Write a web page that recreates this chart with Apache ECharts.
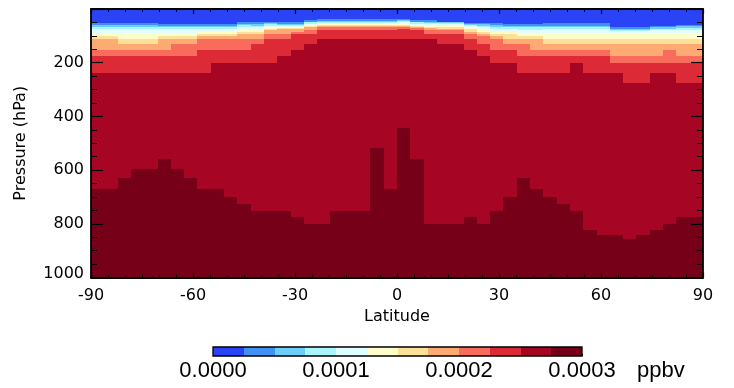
<!DOCTYPE html>
<html><head><meta charset="utf-8">
<script src="https://cdn.jsdelivr.net/npm/echarts@6/dist/echarts.min.js"></script>
<style>html,body{margin:0;padding:0;background:#fff}#c{width:734px;height:388px}</style>
</head><body><div id="c"></div>
<script>
// ---- axis / grid definitions ----
const latMin = -90, latMax = 90, nLat = 46;          // 46 latitude columns
const latTicks = [-90, -60, -30, 0, 30, 60, 90];
const pressureTicks = [200, 400, 600, 800, 1000];
const colorbarTicks = ['0.0000', '0.0001', '0.0002', '0.0003'];
const unitLabel = 'ppbv';
// colour bins (ppbv)
const binEdges = [0, 0.000025, 0.00005, 0.000075, 0.0001, 0.000125, 0.00015, 0.000175, 0.0002, 0.000225, 0.00025, 0.000275, 0.0003];
const palette = ['#2a44f5', '#3d92f3', '#6dcefa', '#aaf4fd', '#e0fefe', '#fefcc8', '#fde09a', '#fdab73', '#f96c5c', '#dc2b37', '#a70524', '#760018'];

// ---- data: pressure (hPa) where each column first reaches bin k (k = 1..11), columns south -> north ----
const bin1  = [52,52,52,52,52,55,57,57,57,57,57,47,47,47,50,50,42,38,38,38,38,38,38,38,42,42,47,47,52,52,52,57,57,57,53,53,53,53,53,66,66,66,62,62,58,58];
const bin2  = [60,60,60,60,60,62,62,62,62,62,62,55,57,53,55,55,47,44,44,44,44,44,44,42,47,47,50,50,55,57,60,62,62,62,62,62,62,62,62,74,74,74,68,68,64,64];
const bin3  = [68,68,68,68,68,68,68,68,68,68,68,60,62,57,60,60,50,48,48,48,48,48,48,46,50,52,54,54,58,62,66,68,68,68,68,68,68,68,68,78,78,78,74,74,70,70];
const bin4  = [75,75,75,75,75,75,75,75,74,74,74,66,66,62,64,64,55,52,52,52,52,52,52,50,55,57,57,57,62,66,74,74,78,78,74,74,74,74,74,82,82,82,80,80,78,78];
const bin5  = [90,90,90,90,90,90,90,90,84,84,84,74,74,66,68,68,60,56,56,56,56,56,56,54,60,62,60,60,66,74,84,84,90,90,90,90,90,90,90,90,90,90,90,90,90,90];
const bin6  = [100,100,111,111,111,100,100,100,94,94,94,84,84,74,72,72,64,60,60,60,60,60,60,58,64,66,66,66,74,84,94,94,100,100,111,111,111,111,111,111,111,111,111,111,111,111];
const bin7  = [111,111,130,130,130,111,111,111,100,100,100,94,94,78,76,76,68,64,64,64,64,64,64,62,68,72,74,74,84,94,100,111,111,111,131,131,131,131,131,131,131,131,131,131,131,131];
const bin8  = [152,152,152,152,152,152,130,130,111,111,111,111,111,94,94,84,78,68,68,68,68,68,68,66,72,78,78,78,94,100,111,130,130,152,152,152,152,152,152,175,175,175,175,152,175,175];
const bin9  = [175,175,175,175,175,175,175,175,152,152,152,152,130,111,111,94,94,78,78,78,78,78,78,75,78,94,94,94,111,130,152,152,175,175,175,175,175,175,175,202,202,202,202,202,202,202];
const bin10 = [238,238,238,238,238,238,238,238,238,202,202,202,202,202,175,152,130,113,113,113,113,113,113,113,113,113,130,130,153,175,202,202,238,238,238,238,202,238,238,238,277,277,238,238,277,277];
const bin11 = [671,671,631,596,596,557,596,631,671,671,702,727,752,752,752,776,801,801,752,752,752,519,671,444,557,801,801,801,776,801,752,702,631,671,702,727,752,823,842,842,857,842,823,801,776,776];
const bins = [bin1, bin2, bin3, bin4, bin5, bin6, bin7, bin8, bin9, bin10, bin11];

// ---- build cells ----
const pTop = 0, pBottom = 1000;
const cells = [];
for (let i = 0; i < nLat; i++) {
  const x0 = latMin + i * (latMax - latMin) / nLat;
  const x1 = latMin + (i + 1) * (latMax - latMin) / nLat;
  const bounds = [pTop].concat(bins.map(b => b[i])).concat([pBottom]);
  for (let k = 0; k < palette.length; k++) {
    if (bounds[k + 1] > bounds[k]) cells.push([x0, x1, bounds[k], bounds[k + 1], k]);
  }
}
const colorbarCells = [];
for (let k = 0; k < palette.length; k++) colorbarCells.push([binEdges[k], binEdges[k + 1], 0, 1, k]);

function renderRect(params, api) {
  const a = api.coord([api.value(0), api.value(2)]);
  const b = api.coord([api.value(1), api.value(3)]);
  const cs = params.coordSys;
  const x0 = Math.round(Math.min(a[0], b[0])), x1 = Math.round(Math.max(a[0], b[0]));
  const y0 = Math.round(Math.min(a[1], b[1])), y1 = Math.round(Math.max(a[1], b[1]));
  const shape = echarts.graphic.clipRectByRect(
    { x: x0, y: y0, width: x1 - x0, height: y1 - y0 },
    { x: cs.x, y: cs.y, width: cs.width, height: cs.height });
  const c = palette[api.value(4)];
  return shape && { type: 'rect', shape: shape, style: { fill: c } };
}

const axFont = 'DejaVu Sans';
const line = { show: true, onZero: false, lineStyle: { color: '#000', width: 1.8 } };
function xAx(pos, labels) {
  return {
    type: 'value', gridIndex: 0, position: pos, min: latMin, max: latMax, interval: 30, z: 10,
    axisLine: line, splitLine: { show: false },
    axisTick: { show: true, inside: true, length: 5, lineStyle: { color: '#000', width: 1.2 } },
    minorTick: { show: true, splitNumber: 6, length: 3, lineStyle: { color: '#000', width: 1 } },
    axisLabel: { show: labels, color: '#000', fontFamily: axFont, fontSize: 16, margin: 10 },
    name: labels ? 'Latitude' : '', nameLocation: 'middle', nameGap: 27,
    nameTextStyle: { color: '#000', fontFamily: axFont, fontSize: 16 }
  };
}
function yAx(pos, labels) {
  return {
    type: 'value', gridIndex: 0, position: pos, min: pTop, max: pBottom, interval: 200, inverse: true, z: 10,
    axisLine: line, splitLine: { show: false },
    axisTick: { show: true, inside: true, length: 12, lineStyle: { color: '#000', width: 1.2 } },
    minorTick: { show: true, splitNumber: 4, length: 6, lineStyle: { color: '#000', width: 1 } },
    axisLabel: {
      show: labels, color: '#000', fontFamily: axFont, fontSize: 16, margin: 7, showMinLabel: false,
      formatter: v => (pressureTicks.indexOf(v) < 0 ? '' : (v === pBottom ? '{b|' + v + '}' : String(v))),
      rich: { b: { fontFamily: axFont, fontSize: 16, color: '#000', padding: [0, 0, 8, 0] } }
    },
    name: labels ? 'Pressure (hPa)' : '', nameLocation: 'middle', nameGap: 62,
    nameTextStyle: { color: '#000', fontFamily: axFont, fontSize: 16 }
  };
}

const chart = echarts.init(document.getElementById('c'), null, { renderer: 'canvas' });
chart.setOption({
  animation: false,
  backgroundColor: '#fff',
  grid: [
    { left: 91, right: 31, top: 9, bottom: 110.5, containLabel: false },
    { left: 213, width: 369, top: 347, height: 9, show: true, z: 10, borderColor: '#000', borderWidth: 1.3, backgroundColor: 'transparent' }
  ],
  xAxis: [
    xAx('bottom', true), xAx('top', false),
    {
      type: 'value', gridIndex: 1, min: binEdges[0], max: binEdges[binEdges.length - 1], interval: 0.0001,
      axisLine: { show: false }, splitLine: { show: false },
      axisTick: { show: true, inside: true, length: 2, lineStyle: { color: '#000', width: 1 } },
      axisLabel: { color: '#000', fontFamily: 'Liberation Sans', fontSize: 22, margin: 4,
        formatter: v => colorbarTicks[Math.round(v / 0.0001)] }
    }
  ],
  yAxis: [
    yAx('left', true), yAx('right', false),
    { type: 'value', gridIndex: 1, min: 0, max: 1, show: false }
  ],
  graphic: [
    { type: 'text', left: 637, top: 360, style: { text: unitLabel, fill: '#000', font: '22px "Liberation Sans"' } }
  ],
  series: [
    { type: 'custom', xAxisIndex: 0, yAxisIndex: 0, renderItem: renderRect, data: cells, encode: { x: [0, 1], y: [2, 3] }, silent: true },
    { type: 'custom', xAxisIndex: 2, yAxisIndex: 2, renderItem: renderRect, data: colorbarCells, encode: { x: [0, 1], y: [2, 3] }, silent: true }
  ]
});
</script></body></html>
